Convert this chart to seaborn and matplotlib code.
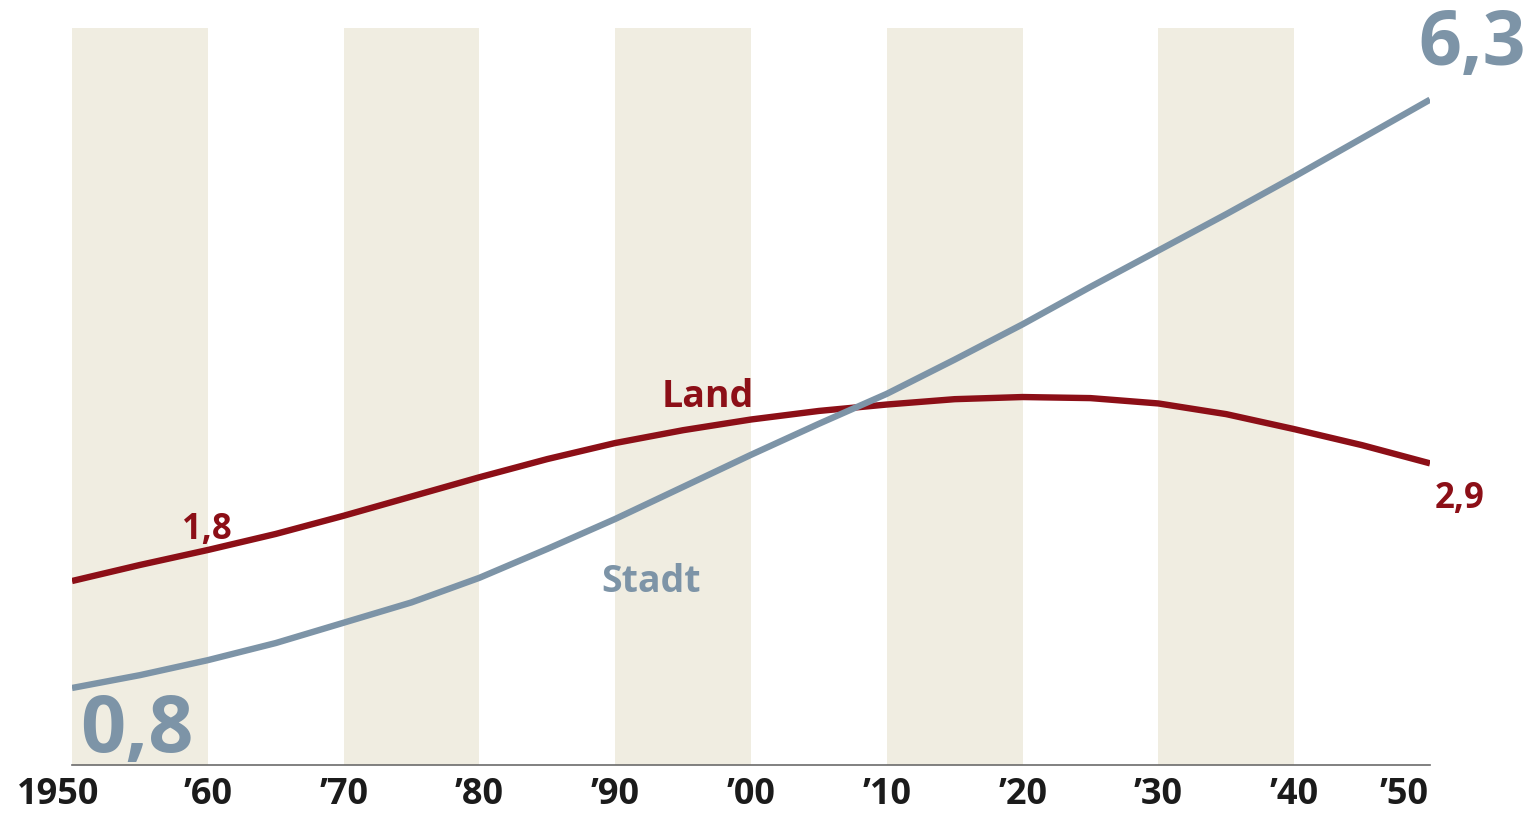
import matplotlib
matplotlib.use("Agg")
import matplotlib.pyplot as plt
import matplotlib.transforms as mtransforms
import seaborn as sns
import pandas as pd

# Population in billions, every five years
years = [1950, 1955, 1960, 1965, 1970, 1975, 1980, 1985, 1990, 1995, 2000,
         2005, 2010, 2015, 2020, 2025, 2030, 2035, 2040, 2045, 2050]
land = [1.8, 1.95, 2.09, 2.24, 2.41, 2.59, 2.77, 2.94, 3.09, 3.21, 3.31,
        3.39, 3.45, 3.50, 3.52, 3.51, 3.46, 3.36, 3.22, 3.07, 2.9]
stadt = [0.8, 0.92, 1.06, 1.22, 1.41, 1.60, 1.83, 2.10, 2.38, 2.68, 2.98,
         3.27, 3.55, 3.87, 4.20, 4.55, 4.89, 5.23, 5.58, 5.94, 6.3]
tick_years = [1950, 1960, 1970, 1980, 1990, 2000, 2010, 2020, 2030, 2040, 2050]
tick_labels = ["1950", "\u201960", "\u201970", "\u201980", "\u201990", "\u201900",
               "\u201910", "\u201920", "\u201930", "\u201940", "\u201950"]
band_starts = [1950, 1970, 1990, 2010, 2030]

LAND_COLOR = "#8C0F17"
STADT_COLOR = "#7D94A7"
BAND_COLOR = "#F0EDE1"

df = pd.DataFrame({
    "Jahr": years * 2,
    "Wert": land + stadt,
    "Gebiet": ["Land"] * len(years) + ["Stadt"] * len(years),
})

sns.set_theme(style="white")
plt.rcParams["font.family"] = ["Open Sans", "DejaVu Sans"]
plt.rcParams["font.weight"] = "bold"

fig = plt.figure(figsize=(15.38, 8.15), dpi=100)
ax = fig.add_axes([72 / 1538, 50 / 815, 1358 / 1538, 737 / 815])

for start in band_starts:
    ax.axvspan(start, start + 10, color=BAND_COLOR, lw=0, zorder=0)

sns.lineplot(data=df, x="Jahr", y="Wert", hue="Gebiet", hue_order=["Land", "Stadt"],
             palette={"Land": LAND_COLOR, "Stadt": STADT_COLOR}, linewidth=4.6,
             legend=False, ax=ax, zorder=3)
for line in ax.get_lines():
    line.set_solid_capstyle("butt")
    line.set_solid_joinstyle("round")

ax.set_xlim(1950, 2050)
ax.set_ylim(0.08, 6.97)
ax.set_xticks(tick_years)
ax.set_xticklabels(tick_labels, fontsize=26, fontweight="bold", color="#1b1b1b")
ax.set_yticks([])
ax.set_xlabel("")
ax.set_ylabel("")
ax.tick_params(axis="x", length=0, pad=9)
for side in ["top", "left", "right"]:
    ax.spines[side].set_visible(False)
ax.spines["bottom"].set_color("#6b6b6b")
ax.spines["bottom"].set_linewidth(1.2)
ax.patch.set_alpha(0)

# Nudge the outermost year labels inward
labels = ax.get_xticklabels()
labels[0].set_transform(labels[0].get_transform()
                        + mtransforms.ScaledTranslation(-0.14, 0, fig.dpi_scale_trans))
labels[-1].set_transform(labels[-1].get_transform()
                         + mtransforms.ScaledTranslation(-0.26, 0, fig.dpi_scale_trans))


def fmt(v):
    return f"{v:.1f}".replace(".", ",")


# Start and end values
ax.annotate(fmt(stadt[0]), xy=(years[0], stadt[0]), xytext=(8, -64),
            textcoords="offset pixels", fontsize=57, fontweight="bold",
            color=STADT_COLOR, ha="left", va="baseline", annotation_clip=False)
ax.annotate(fmt(stadt[-1]), xy=(years[-1], stadt[-1]), xytext=(-12, 35),
            textcoords="offset pixels", fontsize=54, fontweight="bold",
            color=STADT_COLOR, ha="left", va="baseline", annotation_clip=False)
ax.annotate(fmt(land[0]), xy=(years[0], land[0]), xytext=(110, 42),
            textcoords="offset pixels", fontsize=25, fontweight="bold",
            color=LAND_COLOR, ha="left", va="baseline", annotation_clip=False)
ax.annotate(fmt(land[-1]), xy=(years[-1], land[-1]), xytext=(5, -45),
            textcoords="offset pixels", fontsize=25, fontweight="bold",
            color=LAND_COLOR, ha="left", va="baseline", annotation_clip=False)

# Series names
ax.text(1993.4, 3.43, "Land", fontsize=27, fontweight="bold", color=LAND_COLOR,
        ha="left", va="baseline")
ax.text(1989.0, 1.70, "Stadt", fontsize=27, fontweight="bold", color=STADT_COLOR,
        ha="left", va="baseline")

fig.savefig("out.png", dpi=100, facecolor="white")
